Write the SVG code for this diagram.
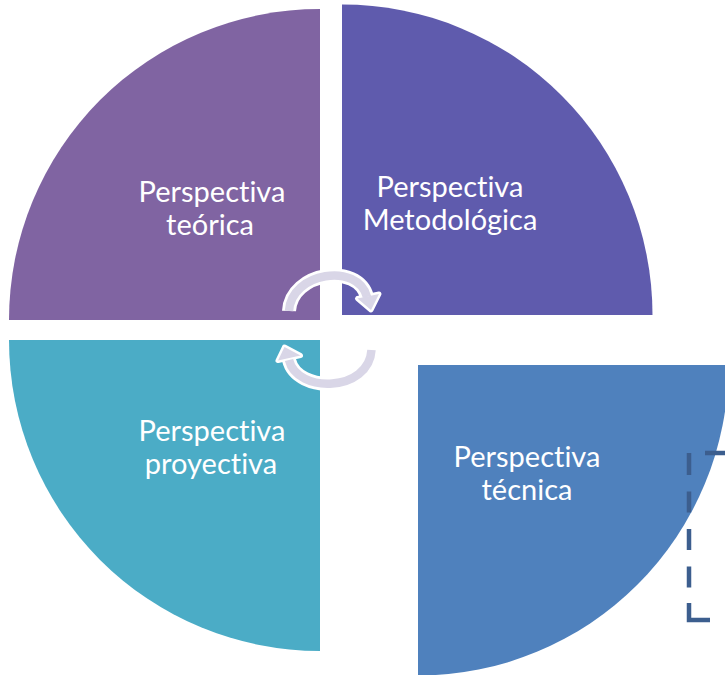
<svg xmlns="http://www.w3.org/2000/svg" width="725" height="675" viewBox="0 0 725 675">
  <style>
    .lbl { font-family: Lato, "Liberation Sans", sans-serif; font-size: 29px; fill: #ffffff; text-anchor: middle; font-variant-ligatures: none; font-feature-settings: "liga" 0, "dlig" 0; }
    .bandW { fill: none; stroke: #ffffff; stroke-width: 14; stroke-linecap: butt; }
    .band { fill: none; stroke: #D9D6E7; stroke-width: 8.5; stroke-linecap: butt; }
    .headW { fill: #D9D6E7; stroke: #ffffff; stroke-width: 5; stroke-linejoin: round; }
    .head { fill: #D9D6E7; }
    .dash { fill: none; stroke: #3C5E8E; stroke-width: 4.5; stroke-linecap: butt; }
  </style>
  <rect width="725" height="675" fill="#ffffff"/>

  <g id="node-teorica">
    <path d="M320 320 H9 A311 311 0 0 1 320 9 Z" fill="#8064A2"/>
    <text class="lbl" x="212" y="202">Perspectiva</text>
    <text class="lbl" x="210" y="235">teórica</text>
  </g>

  <g id="node-metodologica">
    <path d="M342 315 V4.5 A310.5 310.5 0 0 1 652.5 315 Z" fill="#5F5BAD"/>
    <text class="lbl" x="450" y="197">Perspectiva</text>
    <text class="lbl" x="450" y="230">Metodológica</text>
  </g>

  <g id="node-proyectiva">
    <path d="M320 340 V651 A311 311 0 0 1 9 340 Z" fill="#4BACC6"/>
    <text class="lbl" x="212" y="441">Perspectiva</text>
    <text class="lbl" x="211" y="474">proyectiva</text>
  </g>

  <g id="node-tecnica">
    <path d="M418 365 H728.5 A310.5 310.5 0 0 1 418 675.5 Z" fill="#4F81BD"/>
    <text class="lbl" x="527" y="467">Perspectiva</text>
    <text class="lbl" x="527" y="500">técnica</text>
  </g>

  <g id="connectors">
    <path class="bandW" d="M289 311 C291 272 358 262 367 297"/>
    <path class="bandW" d="M371.5 350 C369 392 297 394 289 360"/>
    <polygon class="headW" points="357.5,298.5 379,294 371,310"/>
    <polygon class="headW" points="278,360.5 300.5,355.5 284.5,347"/>
    <path class="band" d="M289 311 C291 272 358 262 367 297"/>
    <path class="band" d="M371.5 350 C369 392 297 394 289 360"/>
    <polygon class="head" points="357.5,298.5 379,294 371,310"/>
    <polygon class="head" points="278,360.5 300.5,355.5 284.5,347"/>
  </g>

  <g id="bracket">
    <path class="dash" d="M689 453 V475 M689 491.5 V512.5 M689 529 V550 M689 566.5 V587.5 M689 603 V620 H710 M705 453 H725"/>
  </g>
</svg>
